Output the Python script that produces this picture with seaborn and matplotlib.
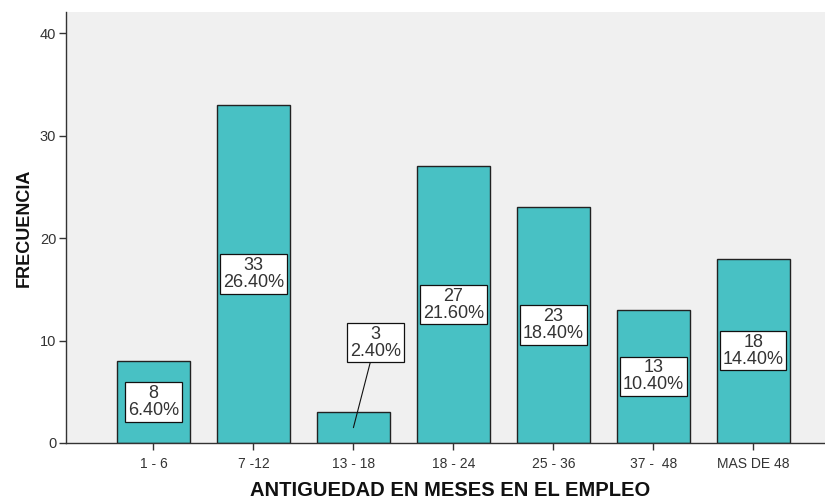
import matplotlib
matplotlib.use("Agg")
import matplotlib.pyplot as plt
import seaborn as sns
import pandas as pd

categories = ["1 - 6", "7 -12", "13 - 18", "18 - 24", "25 - 36", "37 -  48", "MAS DE 48"]
counts = [8, 33, 3, 27, 23, 13, 18]
percents = ["6.40%", "26.40%", "2.40%", "21.60%", "18.40%", "10.40%", "14.40%"]
y_ticks = [0, 10, 20, 30, 40]

sns.set_theme(style="white")
plt.rcParams['font.family'] = ['Liberation Sans', 'DejaVu Sans']

df = pd.DataFrame({"cat": categories, "n": counts})

fig = plt.figure(figsize=(8.25, 5), dpi=100)
ax = fig.add_axes([66/825, 1-443/500, (825-66)/825 + 0.01, (443-12)/500])
ax.set_facecolor("#F0F0F0")

sns.barplot(data=df, x="cat", y="n", color="#48C1C4", saturation=1, width=0.735,
            edgecolor="#222222", linewidth=1.0, ax=ax)

ax.set_ylim(0, 42.05)
ax.set_xlim(-0.875, 6.8)
ax.set_yticks(y_ticks)
ax.set_yticklabels([str(t) for t in y_ticks])
ax.tick_params(axis="x", labelsize=10, colors="#333333", length=5, width=1, direction="out",
               bottom=True, pad=5)
ax.tick_params(axis="y", labelsize=10.5, length=5, width=1, direction="out", left=True,
               colors="#333333", pad=2)

for s in ["top", "right"]:
    ax.spines[s].set_visible(False)
for s in ["left", "bottom"]:
    ax.spines[s].set_color("#333333")
    ax.spines[s].set_linewidth(1.0)

ax.set_xlabel("ANTIGUEDAD EN MESES EN EL EMPLEO", fontsize=14.5, fontweight="bold", labelpad=7, color="#111111")
ax.set_ylabel("FRECUENCIA", fontsize=13, fontweight="bold", labelpad=5, color="#111111")

bbox = dict(boxstyle="square,pad=0.15", facecolor="white", edgecolor="#111111", linewidth=0.9)
for i, (n, p) in enumerate(zip(counts, percents)):
    txt = f"{n}\n{p}"
    if n < 5:
        ax.annotate(txt, xy=(i, 1.5), xytext=(i + 0.22, 9.8), ha="center", va="center",
                    fontsize=13, color="#333333", linespacing=1.0, bbox=bbox,
                    arrowprops=dict(arrowstyle="-", color="#111111", lw=0.8, shrinkA=0, shrinkB=0))
    else:
        ax.text(i, n / 2, txt, ha="center", va="center", fontsize=13, color="#333333",
                linespacing=1.0, bbox=bbox)

fig.savefig("out.png", dpi=100, facecolor="white")
